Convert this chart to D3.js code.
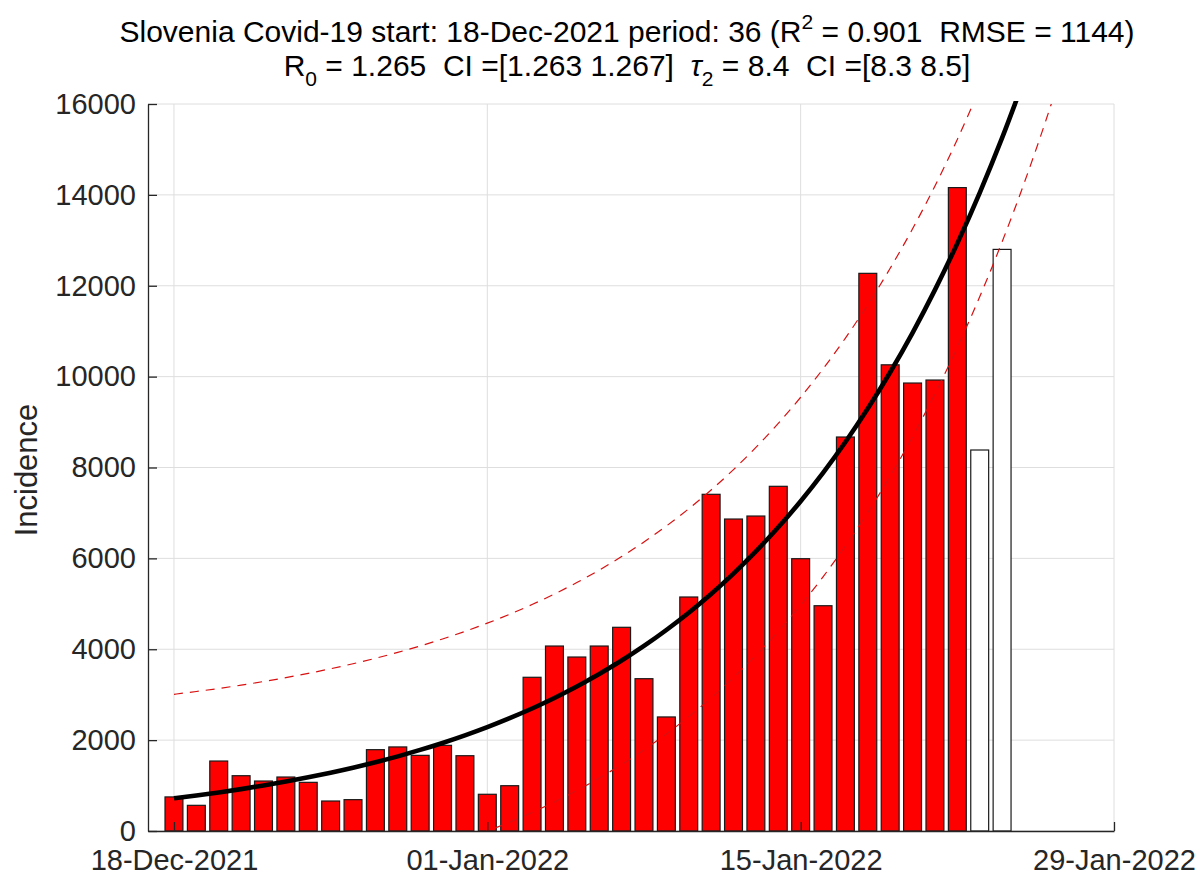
<!DOCTYPE html>
<html>
<head>
<meta charset="utf-8">
<script src="https://cdn.jsdelivr.net/npm/d3@7"></script>
<style>
  html, body { margin: 0; padding: 0; background: #fff; }
  svg { display: block; font-family: "Liberation Sans", Arial, Helvetica, sans-serif; }
  text { white-space: pre; }
</style>
</head>
<body>
<svg id="chart" width="1201" height="876"></svg>
<script>
// ---- data ----
const startDate = "2021-12-18";
// daily incidence, fitted period (36 days, red bars)
const incidence = [750, 565, 1540, 1217, 1100, 1188, 1071, 660, 690, 1790,
                   1850, 1665, 1885, 1657, 808, 997, 3383, 4071, 3829, 4071,
                   4483, 3352, 2510, 5150, 7410, 6866, 6932, 7586, 5993, 4958,
                   8671, 12273, 10260, 9859, 9925, 14160];
// days after the fitted period (white bars)
const extraIncidence = [8385, 12800];
// fitted exponential curve, value at each day from start (day 0..38)
const fitCurve = [720, 782, 849, 922, 1002, 1088, 1181, 1283, 1393, 1513,
                  1643, 1785, 1938, 2105, 2286, 2483, 2696, 2928, 3180, 3454,
                  3751, 4073, 4424, 4804, 5218, 5666, 6154, 6683, 7258, 7882,
                  8561, 9297, 10097, 10965, 11909, 12933, 14046, 15254, 16566];
// upper confidence line, day 0..36
const upperBand = [3008, 3070, 3137, 3210, 3290, 3376, 3469, 3571, 3681, 3801,
                   3931, 4073, 4226, 4393, 4574, 4771, 4984, 5216, 5468, 5742,
                   6039, 6361, 6712, 7092, 7506, 7954, 8442, 8971, 9546, 10170,
                   10849, 11585, 12385, 13253, 14197, 15221, 16334];
// lower confidence line, day 13..40
const lowerBandStartDay = 13;
const lowerBand = [-183, -2, 195, 408, 640, 892, 1166, 1463, 1785, 2136,
                   2516, 2930, 3378, 3866, 4395, 4970, 5594, 6273, 7009, 7809,
                   8677, 9621, 10645, 11758, 12966, 14278, 15703, 17251];
const xTickDates = ["2021-12-18", "2022-01-01", "2022-01-15", "2022-01-29"];
const yTicks = [0, 2000, 4000, 6000, 8000, 10000, 12000, 14000, 16000];
const titleLine1 = ["Slovenia Covid-19 start: 18-Dec-2021 period: 36 (R", "2", " = 0.901  RMSE = 1144)"];
const titleLine2 = ["R", "0", " = 1.265  CI =[1.263 1.267]  ", "\u03C4", "2", " = 8.4  CI =[8.3 8.5]"];
const yLabel = "Incidence";

// ---- layout ----
const L = 148, R = 1114, T = 104, B = 831;
const DAY = 86400000;
const parse = d3.utcParse("%Y-%m-%d");
const t0 = parse(startDate);
const dayDate = i => new Date(t0.getTime() + i * DAY);

const svg = d3.select("#chart");
const x = d3.scaleUtc()
  .domain([new Date(t0.getTime() - 1.16 * DAY), parse("2022-01-29")])
  .range([L, R]);
const y = d3.scaleLinear().domain([0, 16000]).range([B, T]);
const dayPx = x(dayDate(1)) - x(dayDate(0));
const barW = dayPx * 0.8;

const axisColor = "#262626";
const gridColor = "#dedede";

const defs = svg.append("defs");
defs.append("clipPath").attr("id", "plotclip")
  .append("rect").attr("x", L).attr("y", T).attr("width", R - L).attr("height", B - T);
defs.append("clipPath").attr("id", "plotclip2")
  .append("rect").attr("x", L).attr("y", T - 3).attr("width", R - L).attr("height", B - T + 3);

// grid
const grid = svg.append("g");
grid.selectAll("line.gy").data(yTicks).join("line")
  .attr("x1", L).attr("x2", R)
  .attr("y1", d => y(d)).attr("y2", d => y(d))
  .attr("stroke", gridColor).attr("stroke-width", 1);
grid.selectAll("line.gx").data(xTickDates.map(parse)).join("line")
  .attr("x1", d => x(d)).attr("x2", d => x(d))
  .attr("y1", T).attr("y2", B)
  .attr("stroke", gridColor).attr("stroke-width", 1);

// bars
const plot = svg.append("g").attr("clip-path", "url(#plotclip)");
plot.selectAll("rect.red").data(incidence).join("rect")
  .attr("x", (d, i) => x(dayDate(i)) - barW / 2)
  .attr("width", barW)
  .attr("y", d => y(d))
  .attr("height", d => y(0) - y(d))
  .attr("fill", "#ff0000").attr("stroke", "#1a1a1a").attr("stroke-width", 1.2);
plot.selectAll("rect.white").data(extraIncidence).join("rect")
  .attr("x", (d, i) => x(dayDate(incidence.length + i)) - barW / 2)
  .attr("width", barW)
  .attr("y", d => y(d))
  .attr("height", d => y(0) - y(d))
  .attr("fill", "#ffffff").attr("stroke", "#1a1a1a").attr("stroke-width", 1.2);

// confidence lines
const line = d3.line().curve(d3.curveMonotoneX);
plot.append("path")
  .attr("d", line(upperBand.map((v, i) => [x(dayDate(i)), y(v)])))
  .attr("fill", "none").attr("stroke", "#d81010").attr("stroke-width", 1.2)
  .attr("stroke-dasharray", "9,7");
plot.append("path")
  .attr("d", line(lowerBand.map((v, i) => [x(dayDate(i + lowerBandStartDay)), y(v)])))
  .attr("fill", "none").attr("stroke", "#d81010").attr("stroke-width", 1.2)
  .attr("stroke-dasharray", "9,7");

// fit curve
svg.append("path")
  .attr("clip-path", "url(#plotclip2)")
  .attr("d", line(fitCurve.map((v, i) => [x(dayDate(i)), y(v)])))
  .attr("fill", "none").attr("stroke", "#000").attr("stroke-width", 4.6);

// axes
const yAxis = d3.axisLeft(y).tickValues(yTicks).tickFormat(d3.format("d"))
  .tickSizeInner(-9).tickSizeOuter(0).tickPadding(12);
const gy = svg.append("g").attr("transform", `translate(${L},0)`).call(yAxis);
const xAxis = d3.axisBottom(x).tickValues(xTickDates.map(parse))
  .tickFormat(d3.utcFormat("%d-%b-%Y"))
  .tickSizeInner(-9).tickSizeOuter(0).tickPadding(18);
const gx = svg.append("g").attr("transform", `translate(0,${B})`).call(xAxis);
[gx, gy].forEach(g => {
  g.select(".domain").attr("stroke", axisColor).attr("stroke-width", 1.3);
  g.selectAll(".tick line").attr("stroke", axisColor).attr("stroke-width", 1.3);
  g.selectAll(".tick text").attr("fill", axisColor)
    .attr("font-size", 29).attr("font-family", "Liberation Sans, Arial, sans-serif");
});

// y label
svg.append("text")
  .attr("transform", `translate(37,470) rotate(-90)`)
  .attr("text-anchor", "middle")
  .attr("font-size", 31).attr("fill", axisColor)
  .text(yLabel);

// title
const cx = (L + R) / 2 - 4;
const t1 = svg.append("text").attr("x", cx).attr("y", 42)
  .attr("text-anchor", "middle").attr("font-size", 30).attr("fill", "#000");
t1.append("tspan").text(titleLine1[0]);
t1.append("tspan").attr("dy", -13).attr("font-size", 21).text(titleLine1[1]);
t1.append("tspan").attr("dy", 13).text(titleLine1[2]);

const t2 = svg.append("text").attr("x", cx).attr("y", 76)
  .attr("text-anchor", "middle").attr("font-size", 30).attr("fill", "#000");
t2.append("tspan").text(titleLine2[0]);
t2.append("tspan").attr("dy", 10).attr("font-size", 21).text(titleLine2[1]);
t2.append("tspan").attr("dy", -10).text(titleLine2[2]);
t2.append("tspan").attr("font-style", "italic").text(titleLine2[3]);
t2.append("tspan").attr("dy", 10).attr("font-size", 21).text(titleLine2[4]);
t2.append("tspan").attr("dy", -10).text(titleLine2[5]);
</script>
</body>
</html>
